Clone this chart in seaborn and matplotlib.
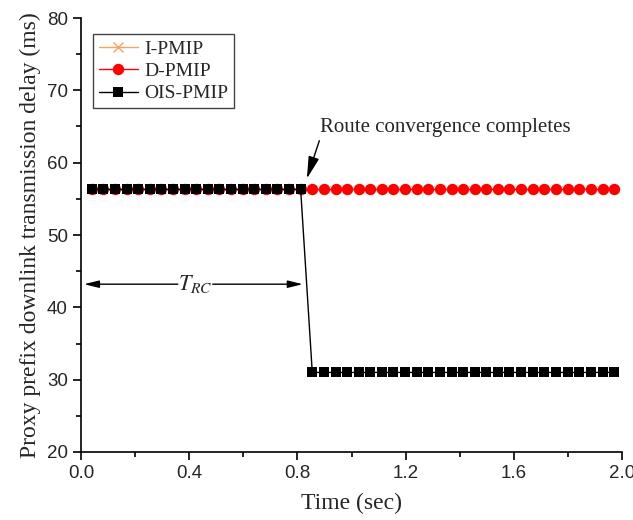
import matplotlib
matplotlib.use("Agg")
import matplotlib.pyplot as plt
from matplotlib.lines import Line2D
import seaborn as sns
import pandas as pd

# ---- data ----
times = [0.040, 0.083, 0.126, 0.169, 0.212, 0.255, 0.297, 0.340, 0.383, 0.426,
         0.469, 0.512, 0.555, 0.598, 0.641, 0.684, 0.726, 0.769, 0.812, 0.855,
         0.898, 0.941, 0.984, 1.027, 1.070, 1.113, 1.155, 1.198, 1.241, 1.284,
         1.327, 1.370, 1.413, 1.456, 1.499, 1.542, 1.584, 1.627, 1.670, 1.713,
         1.756, 1.799, 1.842, 1.885, 1.928, 1.971]
i_pmip = [56.3, 56.3, 56.3, 56.3, 56.3, 56.3, 56.3, 56.3, 56.3, 56.3,
          56.3, 56.3, 56.3, 56.3, 56.3, 56.3, 56.3, 56.3, 56.3, 56.3,
          56.3, 56.3, 56.3, 56.3, 56.3, 56.3, 56.3, 56.3, 56.3, 56.3,
          56.3, 56.3, 56.3, 56.3, 56.3, 56.3, 56.3, 56.3, 56.3, 56.3,
          56.3, 56.3, 56.3, 56.3, 56.3, 56.3]
d_pmip = [56.3, 56.3, 56.3, 56.3, 56.3, 56.3, 56.3, 56.3, 56.3, 56.3,
          56.3, 56.3, 56.3, 56.3, 56.3, 56.3, 56.3, 56.3, 56.3, 56.3,
          56.3, 56.3, 56.3, 56.3, 56.3, 56.3, 56.3, 56.3, 56.3, 56.3,
          56.3, 56.3, 56.3, 56.3, 56.3, 56.3, 56.3, 56.3, 56.3, 56.3,
          56.3, 56.3, 56.3, 56.3, 56.3, 56.3]
ois_pmip = [56.3, 56.3, 56.3, 56.3, 56.3, 56.3, 56.3, 56.3, 56.3, 56.3,
            56.3, 56.3, 56.3, 56.3, 56.3, 56.3, 56.3, 56.3, 56.3, 31.0,
            31.0, 31.0, 31.0, 31.0, 31.0, 31.0, 31.0, 31.0, 31.0, 31.0,
            31.0, 31.0, 31.0, 31.0, 31.0, 31.0, 31.0, 31.0, 31.0, 31.0,
            31.0, 31.0, 31.0, 31.0, 31.0, 31.0]
series_names = ["I-PMIP", "D-PMIP", "OIS-PMIP"]
x_ticks = [0.0, 0.4, 0.8, 1.2, 1.6, 2.0]
y_ticks = [20, 30, 40, 50, 60, 70, 80]

sns.set_style("ticks")
plt.rcParams['font.family'] = ['Liberation Serif', 'DejaVu Serif']
plt.rcParams['mathtext.fontset'] = 'stix'

fig = plt.figure(figsize=(6.33, 5.2), dpi=100)
ax = fig.add_axes([81/633, 1-452/520, 541/633, 434/520])

df_i = pd.DataFrame({"t": times, "v": i_pmip})
df_d = pd.DataFrame({"t": times, "v": d_pmip})
df_o = pd.DataFrame({"t": times, "v": ois_pmip})

styles = [
    dict(color="#F7A35C", marker="x", markersize=7.5, markeredgewidth=1.0),
    dict(color="red", marker="o", markersize=8.2, markeredgewidth=0),
    dict(color="black", marker="s", markersize=7.3, markeredgewidth=0),
]
for df, st in zip([df_i, df_d, df_o], styles):
    sns.lineplot(data=df, x="t", y="v", ax=ax, lw=1.0, legend=False,
                 estimator=None, sort=False, **st)

ax.set_xlim(0, 2.0)
ax.set_ylim(20, 80)
ax.set_xticks(x_ticks)
ax.set_xticklabels([f"{v:.1f}" for v in x_ticks])
ax.set_yticks(y_ticks)
ax.set_xticks([0.2, 0.6, 1.0, 1.4, 1.8], minor=True)
ax.set_yticks([25, 35, 45, 55, 65, 75], minor=True)
ax.tick_params(axis='both', which='major', direction='out', length=6, width=1.2,
               labelsize=13.5, color='black')
ax.tick_params(axis='both', which='minor', direction='out', length=3.5, width=1.2,
               color='black')
for lab in ax.get_xticklabels() + ax.get_yticklabels():
    lab.set_fontfamily(['Liberation Sans', 'DejaVu Sans'])

for s in ['top', 'right']:
    ax.spines[s].set_visible(False)
for s in ['left', 'bottom']:
    ax.spines[s].set_linewidth(1.2)
    ax.spines[s].set_color('black')

ax.set_xlabel("Time (sec)", fontsize=17, labelpad=8)
ax.set_ylabel("Proxy prefix downlink transmission delay (ms)", fontsize=17, labelpad=4)

handles = [Line2D([], [], lw=1.0, **st) for st in styles]
leg = ax.legend(handles, series_names, loc='upper left',
                bbox_to_anchor=(0.022, 0.963), borderaxespad=0,
                fancybox=False, edgecolor='#444444', framealpha=1, fontsize=14,
                handlelength=2.0, handletextpad=0.35, borderpad=0.3,
                labelspacing=0.25)
leg.get_frame().set_linewidth(1.0)

# annotations
ax.annotate("Route convergence completes", xy=(0.835, 57.8), xytext=(0.885, 64.8),
            fontsize=15, va='center', ha='left',
            arrowprops=dict(arrowstyle='-|>,head_length=0.9,head_width=0.22',
                            lw=1.0, color='black', shrinkA=0, shrinkB=0,
                            relpos=(0.0, 0.0)))
ax.annotate("", xy=(0.011, 43.2), xytext=(0.358, 43.2),
            arrowprops=dict(arrowstyle='-|>,head_length=0.9,head_width=0.22',
                            lw=1.0, color='black', shrinkA=0, shrinkB=0))
ax.annotate("", xy=(0.82, 43.2), xytext=(0.487, 43.2),
            arrowprops=dict(arrowstyle='-|>,head_length=0.9,head_width=0.22',
                            lw=1.0, color='black', shrinkA=0, shrinkB=0))
ax.text(0.422, 43.2, r"$T_{RC}$", fontsize=16, ha='center', va='center')

fig.savefig("out.png", dpi=100)
